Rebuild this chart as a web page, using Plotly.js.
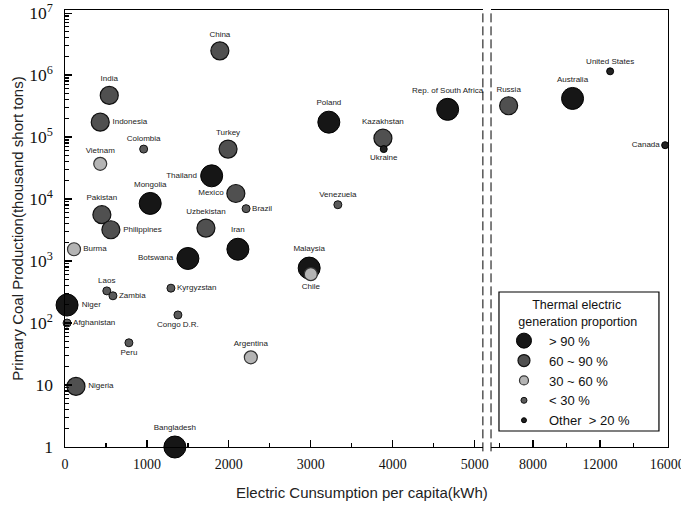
<!DOCTYPE html>
<html>
<head>
<meta charset="utf-8">
<script src="https://cdn.plot.ly/plotly-3.0.1.min.js"></script>
<style>html,body{margin:0;padding:0;background:#fff;}#chart{width:681px;height:505px;}</style>
</head>
<body>
<div id="chart"></div>
<script>
// ---- data ----
const countries = ["China","India","Indonesia","Colombia","Vietnam","Turkey","Thailand","Mexico","Brazil","Mongolia",
  "Pakistan","Philippines","Uzbekistan","Poland","Venezuela","Rep. of South Africa","Kazakhstan","Ukraine","Russia","Australia",
  "United States","Canada","Burma","Iran","Botswana","Malaysia","Chile","Laos","Zambia","Kyrgyzstan",
  "Niger","Afghanistan","Congo D.R.","Peru","Argentina","Nigeria","Bangladesh"];
const elecKWh = [1890,540,430,960,430,1990,1790,2085,2210,1040,
  450,560,1720,3220,3330,4670,3880,3890,6550,10360,
  12600,15880,110,2110,1500,2980,3000,510,585,1293,
  25,25,1378,780,2268,134,1341];
const coalProd = [2.46e6,4.7e5,1.74e5,6.4e4,3.7e4,6.4e4,2.37e4,1.23e4,7.0e3,8.5e3,
  5.6e3,3.2e3,3.4e3,1.74e5,8.1e3,2.8e5,9.6e4,6.4e4,3.2e5,4.2e5,
  1.15e6,7.4e4,1.55e3,1.55e3,1.1e3,770,615,330,275,365,
  195,100,135,48,28,9.5,1];
const thermalGroup = ["60 ~ 90 %","60 ~ 90 %","60 ~ 90 %","< 30 %","30 ~ 60 %","60 ~ 90 %","> 90 %","60 ~ 90 %","< 30 %","> 90 %",
  "60 ~ 90 %","60 ~ 90 %","60 ~ 90 %","> 90 %","< 30 %","> 90 %","60 ~ 90 %","Other  > 20 %","60 ~ 90 %","> 90 %",
  "Other  > 20 %","Other  > 20 %","30 ~ 60 %","> 90 %","> 90 %","> 90 %","30 ~ 60 %","< 30 %","< 30 %","< 30 %",
  "> 90 %","< 30 %","< 30 %","< 30 %","30 ~ 60 %","60 ~ 90 %","> 90 %"];
const groups = ["> 90 %","60 ~ 90 %","30 ~ 60 %","< 30 %","Other  > 20 %"];
const leftTicks = [0,1000,2000,3000,4000,5000];
const rightTicks = [8000,12000,16000];
const rightTickText = ["8000","12000","16000"];
const breakAt = 5200;

// ---- styles ----
const groupStyle = {
  "> 90 %":        {size:22, legSize:15, color:"#161616", line:"#000", lw:1},
  "60 ~ 90 %":     {size:18, legSize:12, color:"#505050", line:"#111", lw:1.2},
  "30 ~ 60 %":     {size:13, legSize:9,  color:"#b4b4b4", line:"#333", lw:1.2},
  "< 30 %":        {size:8,  legSize:6,  color:"#5a5a5a", line:"#111", lw:1},
  "Other  > 20 %": {size:7,  legSize:5,  color:"#222222", line:"#000", lw:1}
};
const labelPos = {
  "Indonesia":"middle right","Thailand":"middle left","Mexico":"middle left","Brazil":"middle right",
  "Philippines":"middle right","Ukraine":"bottom center","Canada":"middle left","Burma":"middle right",
  "Botswana":"middle left","Chile":"bottom center","Zambia":"middle right","Kyrgyzstan":"middle right",
  "Niger":"middle right","Afghanistan":"middle right","Congo D.R.":"bottom center","Peru":"bottom center",
  "Nigeria":"middle right"
};

const traces = [];
groups.forEach(g => {
  const st = groupStyle[g];
  [0,1].forEach(panel => {
    const idx = countries.map((c,i)=>i).filter(i => thermalGroup[i]===g && (panel===0 ? elecKWh[i] <= breakAt : elecKWh[i] > breakAt));
    if (!idx.length) return;
    traces.push({
      type:"scatter", mode:"markers+text",
      x: idx.map(i=>elecKWh[i]), y: idx.map(i=>coalProd[i]),
      text: idx.map(i=>countries[i]),
      textposition: idx.map(i=>labelPos[countries[i]] || "top center"),
      textfont:{family:"Liberation Sans, Arial, sans-serif", size:8, color:"#222"},
      marker:{size:st.size, color:st.color, line:{color:st.line, width:st.lw}},
      xaxis: panel===0 ? "x" : "x2", yaxis: panel===0 ? "y" : "y2",
      cliponaxis:false, showlegend:false, hoverinfo:"text", name:g
    });
  });
});
// legend entries
groups.forEach(g => {
  const st = groupStyle[g];
  traces.push({type:"scatter", mode:"markers", x:[null], y:[null], name:g, showlegend:true,
    marker:{size:st.legSize, color:st.color, line:{color:st.line, width:st.lw}}, xaxis:"x", yaxis:"y"});
});

const serif = {family:"Liberation Serif, Times New Roman, serif", size:14, color:"#111"};
const L = 0.693, R = 0.7065;
const NB = "\u00a0";
const layout = {
  width:681, height:505,
  margin:{l:65, r:13, t:10, b:58},
  paper_bgcolor:"#fff", plot_bgcolor:"#fff",
  showlegend:true,
  xaxis:{domain:[0,L], range:[0,5100], tickvals:leftTicks, ticks:"inside", ticklen:7, tickwidth:1.2, tickcolor:"#000",
    minor:{dtick:500, tick0:0, ticks:"inside", ticklen:4, tickcolor:"#000"},
    showline:true, linecolor:"#000", linewidth:1.3, mirror:true, showgrid:false, zeroline:false,
    tickfont:serif, ticklabelstandoff:4},
  xaxis2:{domain:[R,1], range:[5500,16050], tickvals:rightTicks, ticktext:rightTickText, ticks:"inside", ticklen:7, tickwidth:1.2, tickcolor:"#000",
    minor:{tickvals:[6000,10000,14000], ticks:"inside", ticklen:4, tickcolor:"#000"},
    showline:true, linecolor:"#000", linewidth:1.3, mirror:true, showgrid:false, zeroline:false,
    tickfont:serif, ticklabelstandoff:4, ticklabeloverflow:"allow", anchor:"y2"},
  yaxis:{type:"log", range:[0,7.05], dtick:1, exponentformat:"power", ticks:"inside", ticklen:7, tickwidth:1.2, tickcolor:"#000",
    minor:{dtick:"D1", ticks:"inside", ticklen:4, tickcolor:"#000"},
    showline:true, linecolor:"#000", linewidth:1.3, showgrid:false, zeroline:false,
    tickfont:serif, ticklabelstandoff:8,
    title:{text:"Primary Coal Production(thousand short tons)", font:{family:"Liberation Sans, Arial, sans-serif", size:15, color:"#222"}, standoff:2}},
  yaxis2:{type:"log", range:[0,7.05], anchor:"x2", side:"right", showticklabels:false, ticks:"",
    showline:true, linecolor:"#000", linewidth:1.3, showgrid:false, zeroline:false},
  shapes:[
    {type:"line", xref:"paper", yref:"paper", x0:L, x1:L, y0:-0.01, y1:1, line:{color:"#000", width:1, dash:"9px,4px"}},
    {type:"line", xref:"paper", yref:"paper", x0:R, x1:R, y0:-0.01, y1:1, line:{color:"#000", width:1, dash:"9px,4px"}},
    {type:"rect", xref:"paper", yref:"paper", x0:0.7197, x1:0.985, y0:0.0366, y1:0.3547, layer:"above",
     line:{color:"#000", width:1.2}, fillcolor:"rgba(255,255,255,0)"}
  ],
  annotations:[
    {text:"Electric Cunsumption per capita(kWh)", xref:"paper", yref:"paper", x:0.4925, y:-0.105,
     xanchor:"center", yanchor:"middle", showarrow:false,
     font:{family:"Liberation Sans, Arial, sans-serif", size:15, color:"#222"}}
  ],
  legend:{x:0.7197, y:0.352, xanchor:"left", yanchor:"top", bgcolor:"rgba(255,255,255,0)", borderwidth:0,
    font:{family:"Liberation Sans, Arial, sans-serif", size:13, color:"#111"}, itemsizing:"trace", tracegroupgap:0,
    itemwidth:40,
    title:{text:NB+NB+NB+NB+NB+NB+NB+NB+NB+"Thermal electric<br>"+NB+NB+NB+NB+NB+"generation proportion", side:"top",
      font:{family:"Liberation Sans, Arial, sans-serif", size:12.5, color:"#111"}}}
};
Plotly.newPlot("chart", traces, layout, {displayModeBar:false, staticPlot:true});
</script>
</body>
</html>
